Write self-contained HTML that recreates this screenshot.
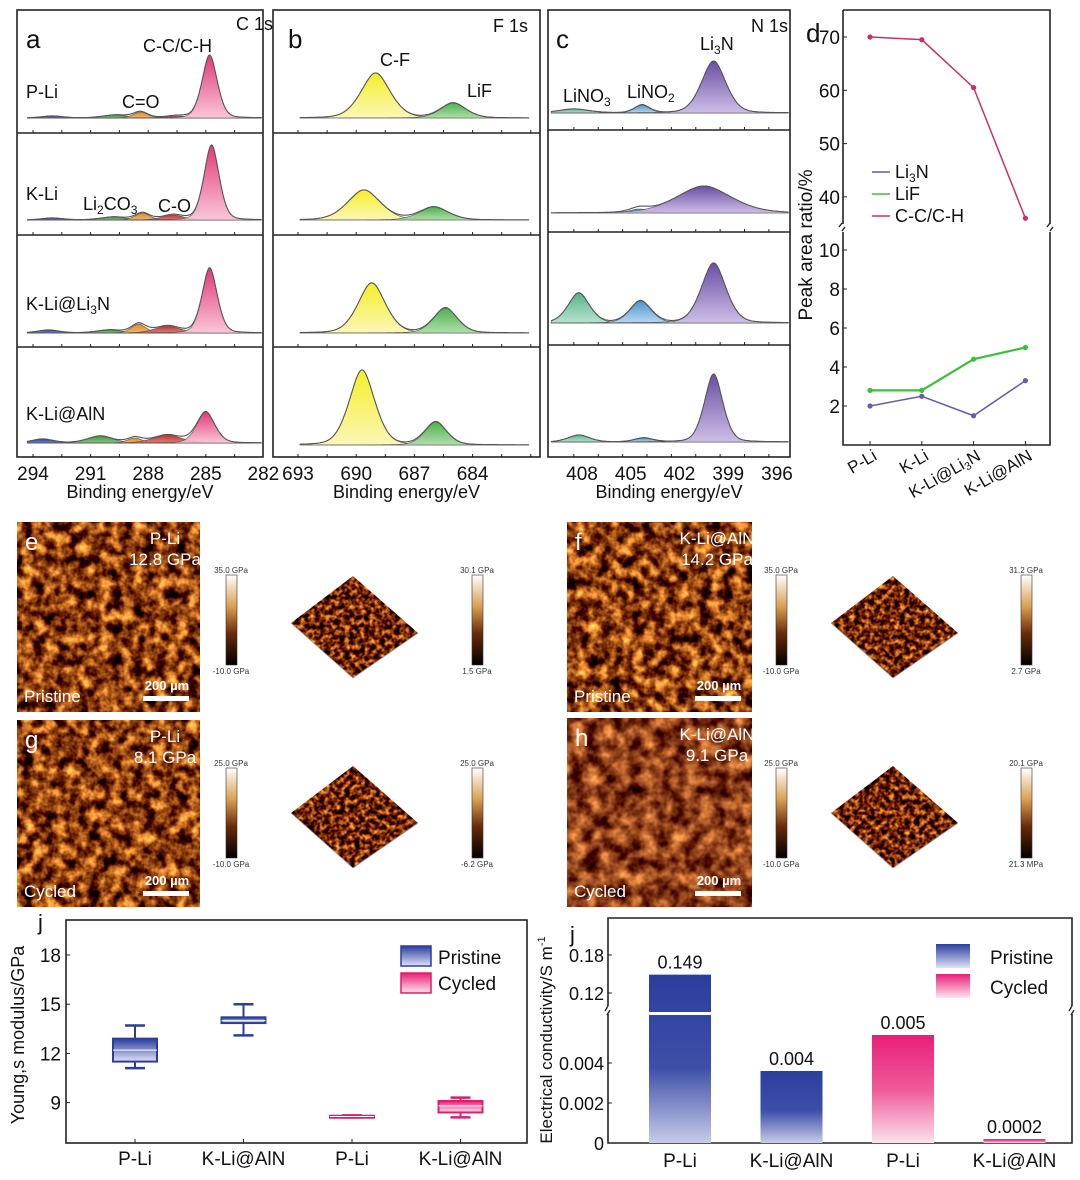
<!DOCTYPE html>
<html><head><meta charset="utf-8">
<style>
html,body{margin:0;padding:0;background:#fff;}
svg{display:block;font-family:"Liberation Sans",Arial,sans-serif;}
</style></head>
<body>
<svg id="fig" width="1080" height="1180" viewBox="0 0 1080 1180" xmlns="http://www.w3.org/2000/svg">
<defs>
  <filter id="afm" x="0" y="0" width="100%" height="100%" color-interpolation-filters="sRGB">
    <feTurbulence type="fractalNoise" baseFrequency="0.09" numOctaves="3" seed="3"/>
    <feColorMatrix type="matrix" values="2.0 0 0 0 -0.45  1.6 0 0 0 -0.55  0.8 0 0 0 -0.35  0 0 0 0 1"/>
  </filter>
  <filter id="afm2" x="0" y="0" width="100%" height="100%" color-interpolation-filters="sRGB">
    <feTurbulence type="fractalNoise" baseFrequency="0.07" numOctaves="3" seed="8"/>
    <feColorMatrix type="matrix" values="1.4 0 0 0 -0.15  1.1 0 0 0 -0.3  0.6 0 0 0 -0.2  0 0 0 0 1"/>
  </filter>
  <filter id="afm3d" x="0" y="0" width="100%" height="100%" color-interpolation-filters="sRGB">
    <feTurbulence type="fractalNoise" baseFrequency="0.2" numOctaves="2" seed="5"/>
    <feColorMatrix type="matrix" values="2.0 0 0 0 -0.55  1.6 0 0 0 -0.65  0.8 0 0 0 -0.4  0 0 0 0 1"/>
  </filter>
  <linearGradient id="cbar" x1="0" y1="0" x2="0" y2="1">
    <stop offset="0" stop-color="#fff"/><stop offset="0.35" stop-color="#d9a050"/><stop offset="0.65" stop-color="#6a2a08"/><stop offset="1" stop-color="#000"/>
  </linearGradient>
  <linearGradient id="gBlue" x1="0" y1="0" x2="0" y2="1"><stop offset="0" stop-color="#2a3e9e"/><stop offset="0.55" stop-color="#3c4fa8"/><stop offset="1" stop-color="#c8cbe8"/></linearGradient>
  <linearGradient id="gPink" x1="0" y1="0" x2="0" y2="1"><stop offset="0" stop-color="#e81e78"/><stop offset="0.5" stop-color="#ef5a98"/><stop offset="1" stop-color="#fbe2ec"/></linearGradient>
  <linearGradient id="gBlueS" x1="0" y1="0" x2="0" y2="1"><stop offset="0" stop-color="#2a3e9e"/><stop offset="1" stop-color="#dfe2f5"/></linearGradient>
  <linearGradient id="gPinkS" x1="0" y1="0" x2="0" y2="1"><stop offset="0" stop-color="#e81e78"/><stop offset="1" stop-color="#fde4ee"/></linearGradient>
</defs>
<g id="root"></g>
</svg>
<script>
// ===== Panel a/b/c spectra data: [center eV, height px, sigma eV, colorIndex] =====
const aRows = [
 [[293,2,0.6,0],[289.7,3,0.7,1],[288.4,6,0.4,2],[286.5,2,0.6,3],[284.8,63,0.42,4]],
 [[293,2,0.6,0],[289.8,3,0.7,1],[288.3,7,0.4,2],[286.7,5,0.6,3],[284.7,75,0.42,4]],
 [[293.2,3,0.6,0],[290,3,0.7,1],[288.5,9,0.4,2],[287.0,7,0.7,3],[284.8,65,0.42,4]],
 [[293.5,4,0.6,0],[290.5,7,0.7,1],[288.7,5,0.4,2],[287.0,8,0.8,3],[285.0,31,0.5,4]]
];
const bRows = [
 [[689.0,45,0.8,5],[685.0,15,0.7,6]],
 [[689.6,30,0.9,5],[686.0,13,0.8,6]],
 [[689.2,50,0.75,5],[685.4,25,0.65,6]],
 [[689.7,75,0.7,5],[685.9,23,0.6,6]]
];
const cRows = [
 [[408.5,4,1.0,8],[404.3,8,0.5,9],[399.9,52,0.8,7]],
 [[404.5,4,0.6,9],[400.5,27,1.8,7]],
 [[408.2,30,0.7,8],[404.4,22,0.7,9],[399.9,60,0.8,7]],
 [[408.2,7,0.7,8],[404.2,4,0.6,9],[399.9,68,0.6,7]]
];
const aTicks = [294,291,288,285,282];
const bTicks = [693,690,687,684];
const cTicks = [408,405,402,399,396];
// ===== Panel d =====
const dCats = ["P-Li","K-Li","K-Li@Li3N","K-Li@AlN"];
const dCC = [70,69.5,60.5,36];
const dLiF = [2.8,2.8,4.4,5.0];
const dLi3N = [2.0,2.5,1.5,3.3];
const dUpperTicks = [70,60,50,40];
const dLowerTicks = [10,8,6,4,2];
// ===== Young's modulus box plot =====
const ymCats = ["P-Li","K-Li@AlN","P-Li","K-Li@AlN"];
const ymGroup = ["Pristine","Pristine","Cycled","Cycled"];
const ymMin = [11.1,13.1,8.1,8.1];
const ymQ1 = [11.5,13.85,8.12,8.4];
const ymMed = [12.2,14.0,8.15,8.8];
const ymQ3 = [12.9,14.2,8.2,9.1];
const ymMax = [13.7,15.0,8.22,9.3];
const ymTicks = [18,15,12,9];
// ===== Conductivity =====
const ecCats = ["P-Li","K-Li@AlN","P-Li","K-Li@AlN"];
const ecGroup = ["Pristine","Pristine","Cycled","Cycled"];
const ecValues = [0.149,0.0036,0.0054,0.0002];
const ecLabels = ["0.149","0.004","0.005","0.0002"];
const ecUpperTicks = [0.18,0.12];
const ecLowerTicks = [0.004,0.002,0];

const NS="http://www.w3.org/2000/svg";
const root=document.getElementById('root');
const defs=document.querySelector('defs');
function el(tag,attrs,parent,text){const e=document.createElementNS(NS,tag);for(const k in attrs)e.setAttribute(k,attrs[k]);if(text!==undefined)e.textContent=text;(parent||root).appendChild(e);return e;}

const peakCols=[["#1e2a9a","#6a74c8"],["#2a8a2a","#7ac07a"],["#e0780a","#f4b060"],["#c01818","#e07070"],["#e0246a","#f8c0d4"],["#f4ec10","#fbf6b0"],["#3aa83a","#a8dca0"],["#5a3a9a","#c8b8e4"],["#4aaa80","#b0e0c8"],["#3a8ac8","#b0d4ee"]];
peakCols.forEach((c,i)=>{const g=el('linearGradient',{id:'pk'+i,x1:0,y1:0,x2:0,y2:1},defs);el('stop',{offset:0,'stop-color':c[0]},g);el('stop',{offset:1,'stop-color':c[1]},g);});

function voigt(E,c,s){const d=(E-c)/s;return 0.7*Math.exp(-0.5*d*d)+0.3/(1+d*d*1.3);}

function spectraPanel(name,rows,E0,k,x0,eStart,eEnd,bases,box,ticks,seps){
  const g=el('g',{});
  
  
  const xs=E=>x0+(E0-E)*k;
  rows.forEach((peaks,ri)=>{
    const by=bases[ri];
    const rg=el('g',{},g);
    
    
    const N=220;
    peaks.forEach(p=>{
      let d='M'+xs(eStart).toFixed(1)+','+by;
      for(let i=0;i<=N;i++){const E=eStart+(eEnd-eStart)*i/N;d+=' L'+xs(E).toFixed(1)+','+(by-p[1]*voigt(E,p[0],p[2])).toFixed(1);}
      d+=' L'+xs(eEnd).toFixed(1)+','+by+' Z';
      const pe=el('path',{d:d,fill:'url(#pk'+p[3]+')','fill-opacity':0.9,stroke:'#555','stroke-width':0.6},rg);
      
      
    });
    let d='';
    for(let i=0;i<=N;i++){const E=eStart+(eEnd-eStart)*i/N;let y=0;peaks.forEach(p=>y+=p[1]*voigt(E,p[0],p[2]));d+=(i?' L':'M')+xs(E).toFixed(1)+','+(by-y).toFixed(1);}
    const env=el('path',{d:d,fill:'none',stroke:'#555','stroke-width':1.1},rg);
    
    
  });
  el('rect',{x:box[0],y:box[1],width:box[2]-box[0],height:box[3]-box[1],fill:'none',stroke:'#222','stroke-width':1.6},g);
  seps.forEach(sy=>{
    el('line',{x1:box[0],x2:box[2],y1:sy,y2:sy,stroke:'#222','stroke-width':1.6},g);
    for(let E=Math.ceil(eEnd)-1;E<=eStart+1;E+=1.5){const x=xs(E);if(x>box[0]+2&&x<box[2]-2)el('line',{x1:x,x2:x,y1:sy,y2:sy-3,stroke:'#222','stroke-width':1},g);}
  });
  for(let E=Math.ceil(eEnd)-1;E<=eStart+1;E+=1.5){const x=xs(E);if(x>box[0]+2&&x<box[2]-2)el('line',{x1:x,x2:x,y1:box[3],y2:box[3]-3,stroke:'#222','stroke-width':1},g);}
  ticks.forEach(t=>{const tl=el('text',{x:xs(t),y:box[3]+23,'font-size':19,'text-anchor':'middle',fill:'#111'},g,String(t));});
  const xt=el('text',{x:(box[0]+box[2])/2,y:box[3]+41,'font-size':18,'text-anchor':'middle',fill:'#111'},g,'Binding energy/eV');
  
  return g;
}
spectraPanel('panel-a-c1s',aRows,294,19.2,33,294.3,282.1,[118,220,333,443],[17,10,263,457],aTicks,[133,235,347]);
spectraPanel('panel-b-f1s',bRows,693,19.4,298,692.9,681.1,[118,220,333,445],[273,10,540,457],bTicks,[133,235,347]);
spectraPanel('panel-c-n1s',cRows,408,16.25,582,409.9,395.3,[113,213,323,442],[548,10,790,457],cTicks,[130,232,345]);

function txt(x,y,s,size,name,anchor,extra){const t=el('text',Object.assign({x:x,y:y,'font-size':size,fill:'#111','text-anchor':anchor||'start'},extra||{}));t.innerHTML=s;return t;}
txt(26,48,'a',26,'panel-a-letter');txt(236,30,'C 1s',18,'c1s-title');txt(143,52,'C-C/C-H',18,'cc-ch-label');
txt(26,98,'P-Li',18,'sample-p-li');txt(122,108,'C=O',18,'c-o-double-label');
txt(26,200,'K-Li',18,'sample-k-li');txt(83,210,'Li<tspan font-size="12" dy="4">2</tspan><tspan dy="-4">CO</tspan><tspan font-size="12" dy="4">3</tspan>',18,'li2co3-label');txt(158,212,'C-O',18,'c-o-label');
txt(26,310,'K-Li@Li<tspan font-size="12" dy="4">3</tspan><tspan dy="-4">N</tspan>',18,'sample-k-li-li3n');
txt(26,420,'K-Li@AlN',18,'sample-k-li-aln');
txt(288,48,'b',26,'panel-b-letter');txt(528,32,'F 1s',18,'f1s-title','end');txt(380,66,'C-F',18,'cf-label');txt(467,97,'LiF',18,'lif-label');
txt(556,48,'c',26,'panel-c-letter');txt(788,32,'N 1s',18,'n1s-title','end');
txt(700,50,'Li<tspan font-size="12" dy="4">3</tspan><tspan dy="-4">N</tspan>',18,'li3n-label');
txt(563,102,'LiNO<tspan font-size="12" dy="4">3</tspan>',18,'lino3-label');txt(627,98,'LiNO<tspan font-size="12" dy="4">2</tspan>',18,'lino2-label');

// ===== Panel d =====
(function(){
  const g=el('g',{});
  const L=843,R=1050,T=10,B=445,brk=228;
  const xs=i=>870+i*51.8;
  const yU=v=>37+(70-v)*5.33;
  const yL=v=>250+(10-v)*19.5;
  const yv=v=>v>20?yU(v):yL(v);
  el('path',{d:`M${L},${T} L${R},${T} L${R},${brk-4} M${R},${brk+4} L${R},${B} L${L},${B} L${L},${brk+4} M${L},${brk-4} L${L},${T}`,fill:'none',stroke:'#222','stroke-width':1.6},g);
  el('path',{d:`M${L-4},${brk-1} l3,-4 M${L-1},${brk+3} l3,-4 M${R-3},${brk-1} l3,-4 M${R},${brk+3} l3,-4`,stroke:'#222','stroke-width':1.4,fill:'none'},g);
  dUpperTicks.forEach(t=>{el('line',{x1:L,x2:L+4,y1:yU(t),y2:yU(t),stroke:'#222'},g);g.appendChild(txt(L-3,yU(t)+7,String(t),19,'y-tick-label','end'));});
  dLowerTicks.forEach(t=>{el('line',{x1:L,x2:L+4,y1:yL(t),y2:yL(t),stroke:'#222'},g);g.appendChild(txt(L-3,yL(t)+7,String(t),19,'y-tick-label','end'));});
  g.appendChild(txt(806,42,'d',26,'panel-d-letter'));
  g.appendChild(txt(0,0,'Peak area ratio/%',19,'y-axis-title','middle',{transform:'translate(812,245) rotate(-90)'}));
  dCats.forEach((c,i)=>{el('line',{x1:xs(i),x2:xs(i),y1:B,y2:B-4,stroke:'#222'},g);
    const lab=c.replace('Li3N','Li<tspan font-size="11" dy="3">3</tspan><tspan dy="-3">N</tspan>');
    g.appendChild(txt(0,0,lab,17,'x-tick-label','end',{transform:`translate(${xs(i)+8},${B+14}) rotate(-30)`}));});
  [[dCC,'#c8306a','series-c-c-c-h'],[dLiF,'#3cbf3c','series-lif'],[dLi3N,'#6a5aa8','series-li3n']].forEach(([arr,col,nm])=>{
    const p=el('polyline',{points:arr.map((v,i)=>xs(i)+','+yv(v)).join(' '),fill:'none',stroke:col,'stroke-width':nm==='series-lif'?2.2:1.5},g);
    
    arr.forEach((v,i)=>{const c=el('circle',{cx:xs(i),cy:yv(v),r:2.6,fill:col},g);});
  });
  [['#6a5aa8','Li<tspan font-size="12" dy="4">3</tspan><tspan dy="-4">N</tspan>',178],['#3cbf3c','LiF',200],['#c8306a','C-C/C-H',222]].forEach(([col,lab,y])=>{
    el('line',{x1:872,x2:890,y1:y-6,y2:y-6,stroke:col,'stroke-width':1.5},g);
    g.appendChild(txt(895,y,lab,18,'legend-entry'));});
})();

// ===== AFM images =====
function afm(x,y,w,h,filt,name,letter,line1,line2,corner){
  const g=el('g',{});
  el('rect',{x:x,y:y,width:w,height:h,filter:'url(#'+filt+')'},g);
  g.appendChild(txt(x+8,y+28,letter,24,'panel-letter',null,{fill:'#fff'}));
  g.appendChild(txt(x+w-35,y+22,line1,17,'sample-label','middle',{fill:'#fff'}));
  g.appendChild(txt(x+w-35,y+43,line2,17,'modulus-value','middle',{fill:'#fff'}));
  g.appendChild(txt(x+7,y+h-10,corner,17,'state-label',null,{fill:'#fff'}));
  g.appendChild(txt(x+w-33,y+h-22,'200 µm',13,'scale-bar-label','middle',{fill:'#fff','font-weight':'bold'}));
  el('rect',{x:x+w-57,y:y+h-16,width:46,height:5,fill:'#fff'},g);
  return g;
}
afm(17,522,183,190,'afm','afm-image-e','e','P-Li','12.8 GPa','Pristine');
afm(17,720,183,187,'afm','afm-image-g','g','P-Li','8.1 GPa','Cycled');
afm(567,522,185,190,'afm','afm-image-f','f','K-Li@AlN','14.2 GPa','Pristine');
afm(567,718,185,189,'afm2','afm-image-h','h','K-Li@AlN','9.1 GPa','Cycled');

function cbar(x,y,top,bot,name){
  const r=el('rect',{x:x,y:y,width:11,height:90,fill:'url(#cbar)',stroke:'#333','stroke-width':0.6});
  
  txt(x+5,y-2,top,8,name+'-max','middle',{fill:'#333'});
  txt(x+5,y+99,bot,8,name+'-min','middle',{fill:'#333'});
}
function diamond(cx,cy,name){
  const g=el('g',{});
  const cp=el('clipPath',{id:'cp'+name},defs);
  el('polygon',{points:`${cx},${cy-62} ${cx+65},${cy-5} ${cx},${cy+40} ${cx-62},${cy-15}`},cp);
  el('rect',{x:cx-65,y:cy-65,width:132,height:108,filter:'url(#afm3d)','clip-path':'url(#cp'+name+')'},g);
  el('polyline',{points:`${cx-62},${cy-15} ${cx},${cy+40} ${cx+65},${cy-5}`,fill:'none',stroke:'#999','stroke-width':0.8},g);
}
cbar(226,575,'35.0 GPa','-10.0 GPa','colorbar-e');diamond(353,638,'afm-3d-e');cbar(472,575,'30.1 GPa','1.5 GPa','colorbar-e-3d');
cbar(226,768,'25.0 GPa','-10.0 GPa','colorbar-g');diamond(353,828,'afm-3d-g');cbar(472,768,'25.0 GPa','-6.2 GPa','colorbar-g-3d');
cbar(776,575,'35.0 GPa','-10.0 GPa','colorbar-f');diamond(893,638,'afm-3d-f');cbar(1021,575,'31.2 GPa','2.7 GPa','colorbar-f-3d');
cbar(776,768,'25.0 GPa','-10.0 GPa','colorbar-h');diamond(893,828,'afm-3d-h');cbar(1021,768,'20.1 GPa','21.3 MPa','colorbar-h-3d');

// ===== Young's modulus =====
(function(){
  const g=el('g',{});
  const L=66,R=527,T=920,B=1143;
  const ys=v=>955+(18-v)*16.4;
  const xs=i=>135+i*108.5;
  el('rect',{x:L,y:T,width:R-L,height:B-T,fill:'none',stroke:'#222','stroke-width':1.6},g);
  ymTicks.forEach(t=>{el('line',{x1:L,x2:L+4,y1:ys(t),y2:ys(t),stroke:'#222'},g);g.appendChild(txt(L-5,ys(t)+7,String(t),19,'y-tick-label','end'));});
  ymCats.forEach((c,i)=>{
    const x=xs(i),w=44,cyc=ymGroup[i]==='Cycled',col=cyc?'#d8206a':'#2e3e98';
    el('line',{x1:x,x2:x,y1:B,y2:B-4,stroke:'#222'},g);
    g.appendChild(txt(x,B+22,c,19,'x-tick-label','middle'));
    const bx=el('g',{},g);
    el('line',{x1:x,x2:x,y1:ys(ymMax[i]),y2:ys(ymMin[i]),stroke:col,'stroke-width':2},bx);
    el('line',{x1:x-10,x2:x+10,y1:ys(ymMax[i]),y2:ys(ymMax[i]),stroke:col,'stroke-width':2.5},bx);
    el('line',{x1:x-10,x2:x+10,y1:ys(ymMin[i]),y2:ys(ymMin[i]),stroke:col,'stroke-width':2.5},bx);
    el('rect',{x:x-w/2,y:ys(ymQ3[i]),width:w,height:Math.max(2,ys(ymQ1[i])-ys(ymQ3[i])),fill:cyc?'url(#gPinkS)':'url(#gBlueS)',stroke:col,'stroke-width':2},bx);
    el('line',{x1:x-w/2,x2:x+w/2,y1:ys(ymMed[i]),y2:ys(ymMed[i]),stroke:'#fff','stroke-width':1},bx);
  });
  g.appendChild(txt(0,0,'Young,s modulus/GPa',18,'y-axis-title','middle',{transform:'translate(24,1035) rotate(-90)'}));
  g.appendChild(txt(38,930,'j',22,'panel-letter'));
  el('rect',{x:401,y:946,width:30,height:20,fill:'url(#gBlueS)',stroke:'#2e3e98','stroke-width':1.5},g);
  el('rect',{x:401,y:973,width:30,height:20,fill:'url(#gPinkS)',stroke:'#d8206a','stroke-width':1.5},g);
  g.appendChild(txt(438,964,'Pristine',19,'legend-pristine'));
  g.appendChild(txt(438,990,'Cycled',19,'legend-cycled'));
})();

// ===== Conductivity =====
(function(){
  const g=el('g',{});
  const L=608,R=1072,T=918,B=1143,brk=1010;
  const yL=v=>B-v*20000;
  const yU=v=>993-(v-0.12)*633;
  const xs=i=>680+i*111.5;
  el('path',{d:`M${L},${brk-4} L${L},${T} L${R},${T} L${R},${brk-4} M${R},${brk+4} L${R},${B} L${L},${B} L${L},${brk+4}`,fill:'none',stroke:'#222','stroke-width':1.6},g);
  el('path',{d:`M${L-3},${brk+1} l3,-5 M${L-1},${brk+5} l3,-5 M${R-3},${brk+1} l3,-5 M${R-1},${brk+5} l3,-5`,stroke:'#222','stroke-width':1.3,fill:'none'},g);
  ecUpperTicks.forEach(t=>{el('line',{x1:L,x2:L+4,y1:yU(t),y2:yU(t),stroke:'#222'},g);g.appendChild(txt(L-4,yU(t)+7,String(t),18,'y-tick-label','end'));});
  ecLowerTicks.forEach(t=>{el('line',{x1:L,x2:L+4,y1:yL(t),y2:yL(t),stroke:'#222'},g);g.appendChild(txt(L-4,yL(t)+7,String(t),18,'y-tick-label','end'));});
  ecCats.forEach((c,i)=>{
    const x=xs(i),w=62,cyc=ecGroup[i]==='Cycled',v=ecValues[i];
    const top=v>0.01?yU(v):yL(v);
    const b=el('rect',{x:x-w/2,y:top,width:w,height:B-top,fill:cyc?'url(#gPink)':'url(#gBlue)'},g);
    
    
    if(v>0.01)el('rect',{x:x-w/2-1,y:1012,width:w+2,height:3,fill:'#fff'},g);
    g.appendChild(txt(x,top-6,ecLabels[i],18,'value-label','middle'));
    g.appendChild(txt(x,B+24,c,19,'x-tick-label','middle'));
  });
  g.appendChild(txt(0,0,'Electrical conductivity/S m<tspan font-size="11" dy="-7">-1</tspan>',17,'y-axis-title','middle',{transform:'translate(552,1040) rotate(-90)'}));
  g.appendChild(txt(570,942,'j',22,'panel-letter'));
  el('rect',{x:936,y:944,width:34,height:24,fill:'url(#gBlueS)'},g);
  el('rect',{x:936,y:974,width:34,height:24,fill:'url(#gPinkS)'},g);
  g.appendChild(txt(990,964,'Pristine',19,'legend-pristine'));
  g.appendChild(txt(990,994,'Cycled',19,'legend-cycled'));
})();
</script>
</body></html>
